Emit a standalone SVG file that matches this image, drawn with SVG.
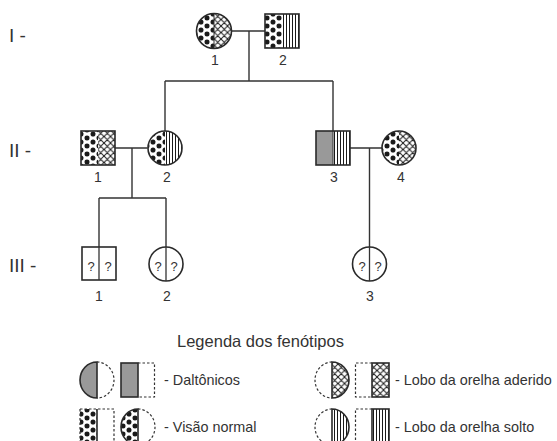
<svg xmlns="http://www.w3.org/2000/svg" width="557" height="441" viewBox="0 0 557 441">
  <defs>
    <pattern id="dots" patternUnits="userSpaceOnUse" width="12" height="8">
      <circle cx="3" cy="2" r="2.5" fill="#1a1a1a"/>
      <circle cx="9" cy="6" r="2.5" fill="#1a1a1a"/>
      <circle cx="-3" cy="6" r="2.5" fill="#1a1a1a"/>
      <circle cx="9" cy="-2" r="2.5" fill="#1a1a1a"/>
      <circle cx="3" cy="10" r="2.5" fill="#1a1a1a"/>
    </pattern>
    <pattern id="hatch" patternUnits="userSpaceOnUse" width="6.5" height="6.5">
      <path d="M0,0 L6.5,6.5 M6.5,0 L0,6.5 M-1,5.5 L1,7.5 M5.5,-1 L7.5,1 M-1,1 L1,-1 M5.5,7.5 L7.5,5.5" stroke="#1a1a1a" stroke-width="1"/>
    </pattern>
    <pattern id="stripes" patternUnits="userSpaceOnUse" width="3" height="3">
      <line x1="1.5" y1="0" x2="1.5" y2="3" stroke="#1a1a1a" stroke-width="1"/>
    </pattern>
  </defs>
  <style>
    text { font-family: "Liberation Sans", Arial, sans-serif; fill: #333; }
    .num { font-size: 14px; text-anchor: middle; }
    .gen { font-size: 19px; }
    .leg { font-size: 14.4px; }
    .title { font-size: 16.5px; }
    .q { font-size: 13px; text-anchor: middle; }
    .ol { fill: none; stroke: #2a2a2a; stroke-width: 1.6; }
    .dash { fill: none; stroke: #333; stroke-width: 1.2; stroke-dasharray: 2.5 2; }
    .edge { fill: none; stroke: #333; stroke-width: 1.4; }
    .gray { fill: #999; }
  </style>
  <rect width="557" height="441" fill="#fff"/>

  <!-- generation labels -->
  <text class="gen" x="9" y="41.5">I -</text>
  <text class="gen" x="9" y="156.5">II -</text>
  <text class="gen" x="9" y="271.5">III -</text>

  <!-- connectors -->
  <g id="connectors">
    <path class="edge" d="M231.5,31 H265 M249,31 V81 M165,81 H333 M165,81 V131 M333,81 V131"/>
    <path class="edge" d="M115,148 H147.5 M132,148 V198 M99,198 H166 M99,198 V247 M166,198 V247"/>
    <path class="edge" d="M350,148 H382 M369.5,148 V247"/>
  </g>

  <!-- generation I -->
  <g id="I-1">
    <path d="M214,13.5 A17.5,17.5 0 0 0 214,48.5 Z" fill="url(#dots)"/>
    <path d="M214,13.5 A17.5,17.5 0 0 1 214,48.5 Z" fill="url(#hatch)"/>
    <line x1="214" y1="13.5" x2="214" y2="48.5" stroke="#333" stroke-width="1"/>
    <circle class="ol" cx="214" cy="31" r="17.5"/>
    <text class="num" x="215" y="65">1</text>
  </g>
  <g id="I-2">
    <rect x="265" y="14" width="17" height="34" fill="url(#dots)"/>
    <rect x="282" y="14" width="17" height="34" fill="url(#stripes)"/>
    <rect class="ol" x="265" y="14" width="34" height="34"/>
    <text class="num" x="283" y="65">2</text>
  </g>

  <!-- generation II -->
  <g id="II-1">
    <rect x="81" y="131" width="17" height="34" fill="url(#dots)"/>
    <rect x="98" y="131" width="17" height="34" fill="url(#hatch)"/>
    <rect class="ol" x="81" y="131" width="34" height="34"/>
    <text class="num" x="98" y="182">1</text>
  </g>
  <g id="II-2">
    <path d="M165,131 A17,17 0 0 0 165,165 Z" fill="url(#dots)"/>
    <path d="M165,131 A17,17 0 0 1 165,165 Z" fill="url(#stripes)"/>
    <circle class="ol" cx="165" cy="148" r="17"/>
    <text class="num" x="167" y="182">2</text>
  </g>
  <g id="II-3">
    <rect class="gray" x="316" y="131" width="17" height="34"/>
    <rect x="333" y="131" width="17" height="34" fill="url(#stripes)"/>
    <line x1="333" y1="131" x2="333" y2="165" stroke="#333" stroke-width="1"/>
    <rect class="ol" x="316" y="131" width="34" height="34"/>
    <text class="num" x="334" y="182">3</text>
  </g>
  <g id="II-4">
    <path d="M399,131 A17,17 0 0 0 399,165 Z" fill="url(#dots)"/>
    <path d="M399,131 A17,17 0 0 1 399,165 Z" fill="url(#hatch)"/>
    <circle class="ol" cx="399" cy="148" r="17"/>
    <text class="num" x="401" y="182">4</text>
  </g>

  <!-- generation III -->
  <g id="III-1">
    <rect class="ol" x="82" y="247" width="34" height="33"/>
    <line x1="99" y1="247" x2="99" y2="280" stroke="#333" stroke-width="1.3"/>
    <text class="q" x="91" y="271">?</text>
    <text class="q" x="108" y="271">?</text>
    <text class="num" x="99" y="301">1</text>
  </g>
  <g id="III-2">
    <circle class="ol" cx="166" cy="264" r="17"/>
    <line x1="166" y1="247" x2="166" y2="281" stroke="#333" stroke-width="1.3"/>
    <text class="q" x="158" y="271">?</text>
    <text class="q" x="174" y="271">?</text>
    <text class="num" x="167" y="301">2</text>
  </g>
  <g id="III-3">
    <circle class="ol" cx="369.5" cy="264" r="17"/>
    <line x1="369.5" y1="247" x2="369.5" y2="281" stroke="#333" stroke-width="1.3"/>
    <text class="q" x="362" y="271">?</text>
    <text class="q" x="378" y="271">?</text>
    <text class="num" x="370" y="301">3</text>
  </g>

  <!-- legend -->
  <g id="legend">
    <text class="title" x="177" y="347">Legenda dos fenótipos</text>

    <!-- color blind -->
    <path class="gray" d="M97,362 A17,18 0 0 0 97,398 Z"/>
    <path d="M97,362 A17,18 0 0 0 97,398 Z" fill="none" stroke="#2a2a2a" stroke-width="1.6"/>
    <path class="dash" d="M97,362 A17,18 0 0 1 97,398"/>
    <rect class="gray" x="121" y="363" width="17" height="34"/>
    <rect class="ol" x="121" y="363" width="17" height="34"/>
    <path class="dash" d="M138,363 H154.5 V397 H138"/>
    <text class="leg" x="164" y="385">- Daltônicos</text>

    <!-- attached earlobe -->
    <path d="M332,362 A17,18 0 0 1 332,398 Z" fill="url(#hatch)" stroke="#2a2a2a" stroke-width="1.6"/>
    <path class="dash" d="M332,362 A17,18 0 0 0 332,398"/>
    <rect x="372" y="363" width="17" height="34" fill="url(#hatch)"/>
    <rect class="ol" x="372" y="363" width="17" height="34"/>
    <path class="dash" d="M372,363 H355.5 V397 H372"/>
    <text class="leg" x="395" y="385">- Lobo da orelha aderido</text>

    <!-- normal vision -->
    <rect x="80" y="409" width="17" height="36" fill="url(#dots)"/>
    <path class="dash" d="M80,409 V445 M80,409 H114 V445"/>
    <line x1="97" y1="409" x2="97" y2="445" stroke="#2a2a2a" stroke-width="1.6"/>
    <path d="M138,409 A17,18 0 0 0 138,445 Z" fill="url(#dots)" stroke="#2a2a2a" stroke-width="1.6"/>
    <path class="dash" d="M138,409 A17,18 0 0 1 138,445"/>
    <text class="leg" x="164" y="432">- Visão normal</text>

    <!-- free earlobe -->
    <path d="M332,409 A17,18 0 0 1 332,445 Z" fill="url(#stripes)" stroke="#2a2a2a" stroke-width="1.6"/>
    <path class="dash" d="M332,409 A17,18 0 0 0 332,445"/>
    <rect x="372" y="409" width="17" height="36" fill="url(#stripes)"/>
    <rect class="ol" x="372" y="409" width="17" height="36"/>
    <path class="dash" d="M372,409 H355.5 V445"/>
    <text class="leg" x="395" y="432">- Lobo da orelha solto</text>
  </g>
</svg>
